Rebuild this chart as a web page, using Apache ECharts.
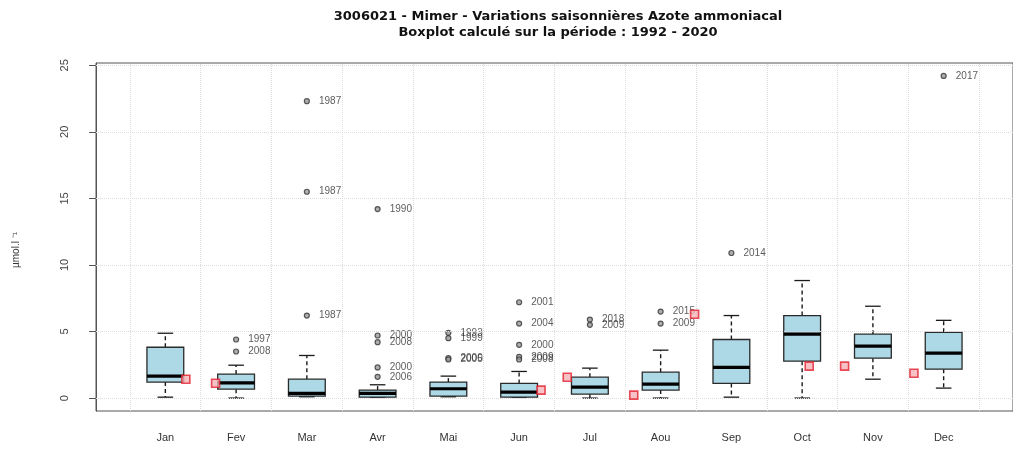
<!DOCTYPE html>
<html>
<head>
<meta charset="utf-8">
<script src="https://cdn.jsdelivr.net/npm/echarts@6/dist/echarts.min.js"></script>
<style>
  html, body { margin: 0; padding: 0; background: #ffffff; }
  #chart { width: 1013px; height: 452px; }
</style>
</head>
<body>
<div id="chart"></div>
<script>
// Monthly ammonium (µmol/l) distribution, station 3006021 Mimer, 1992-2020
const months = ['Jan', 'Fev', 'Mar', 'Avr', 'Mai', 'Jun', 'Jul', 'Aou', 'Sep', 'Oct', 'Nov', 'Dec'];

// Box statistics per month: lower whisker, Q1, median, Q3, upper whisker
const boxLow    = [0.07, 0.00, 0.10, 0.05, 0.10, 0.05, 0.00, 0.00, 0.07, 0.00, 1.42, 0.75];
const boxQ1     = [1.20, 0.67, 0.15, 0.07, 0.15, 0.07, 0.30, 0.60, 1.10, 2.77, 3.00, 2.17];
const boxMedian = [1.65, 1.15, 0.35, 0.35, 0.70, 0.45, 0.82, 1.05, 2.30, 4.80, 3.90, 3.37];
const boxQ3     = [3.82, 1.80, 1.42, 0.60, 1.20, 1.10, 1.57, 1.95, 4.40, 6.20, 4.80, 4.94];
const boxHigh   = [4.87, 2.47, 3.20, 1.00, 1.65, 2.00, 2.25, 3.60, 6.20, 8.83, 6.90, 5.84];

// Outliers: month number (1-12), value, year of the sample
const outlierMonth = [2, 2, 3, 3, 3, 4, 4, 4, 4, 4, 5, 5, 5, 5, 6, 6, 6, 6, 6, 7, 7, 8, 8, 9, 12];
const outlierValue = [4.4, 3.5, 22.3, 15.5, 6.2, 14.2, 4.7, 4.2, 2.3, 1.6, 4.9, 4.5, 3.0, 2.9,
                      7.2, 5.6, 4.0, 3.1, 2.9, 5.9, 5.5, 6.5, 5.6, 10.9, 24.2];
const outlierYear  = ['1997', '2008', '1987', '1987', '1987', '1990', '2000', '2008', '2000', '2006',
                      '1993', '1999', '2000', '2005', '2001', '2004', '2000', '2009', '2008',
                      '2018', '2009', '2015', '2009', '2014', '2017'];

// Latest-year samples: position in the year (month + day fraction) and value
const lastYearPos   = [1.29, 1.71, 6.31, 6.68, 7.62, 8.48, 10.10, 10.60, 11.58];
const lastYearValue = [1.42, 1.12, 0.60, 1.57, 0.22, 6.30, 2.40, 2.40, 1.87];

const yTicks = [0, 5, 10, 15, 20, 25];

const boxData = months.map((m, i) => [i + 1, boxLow[i], boxQ1[i], boxMedian[i], boxQ3[i], boxHigh[i]]);
const outlierData = outlierMonth.map((m, i) => [m, outlierValue[i], outlierYear[i]]);
const lastYearData = lastYearPos.map((p, i) => [p, lastYearValue[i]]);

const gridLines = yTicks.map(v => ({ yAxis: v }))
  .concat(months.map((m, i) => ({ xAxis: i + 0.5 })))
  .concat([{ xAxis: months.length + 0.5 }]);

const chart = echarts.init(document.getElementById('chart'), null, { renderer: 'canvas' });

function renderBox(params, api) {
  const x = api.value(0);
  const lo = api.coord([x, api.value(1)]);
  const q1 = api.coord([x, api.value(2)]);
  const md = api.coord([x, api.value(3)]);
  const q3 = api.coord([x, api.value(4)]);
  const hi = api.coord([x, api.value(5)]);
  const half = api.size([0.26, 0])[0];
  const cap = api.size([0.11, 0])[0];
  const cx = lo[0];
  const whisk = { stroke: '#1a1a1a', lineWidth: 1.4, lineDash: [4, 3] };
  const solid = { stroke: '#1a1a1a', lineWidth: 1.3 };
  return {
    type: 'group',
    children: [
      { type: 'line', shape: { x1: cx, y1: q3[1], x2: cx, y2: hi[1] }, style: whisk },
      { type: 'line', shape: { x1: cx, y1: q1[1], x2: cx, y2: lo[1] }, style: whisk },
      { type: 'line', shape: { x1: cx - cap, y1: hi[1], x2: cx + cap, y2: hi[1] }, style: solid },
      { type: 'line', shape: { x1: cx - cap, y1: lo[1], x2: cx + cap, y2: lo[1] }, style: solid },
      { type: 'rect', shape: { x: cx - half, y: q3[1], width: 2 * half, height: q1[1] - q3[1] },
        style: { fill: '#add8e6', stroke: '#2a2a2a', lineWidth: 1.3 } },
      { type: 'line', shape: { x1: cx - half, y1: md[1], x2: cx + half, y2: md[1] },
        style: { stroke: '#000000', lineWidth: 3.2 } }
    ]
  };
}

chart.setOption({
  animation: false,
  backgroundColor: '#ffffff',
  textStyle: { fontFamily: 'Liberation Sans, Arial, sans-serif' },
  graphic: [
    {
      type: 'text', x: 558, y: 9,
      style: {
        text: '3006021 - Mimer - Variations saisonnières Azote ammoniacal\nBoxplot calculé sur la période : 1992 - 2020',
        align: 'center', verticalAlign: 'top',
        font: 'bold 13px "DejaVu Sans", sans-serif',
        lineHeight: 16, fill: '#111111'
      }
    },
    {
      type: 'text', x: 16, y: 250, rotation: Math.PI / 2,
      style: {
        text: 'µmol.l ⁻¹', align: 'center', verticalAlign: 'middle',
        font: '10px "Liberation Sans", Arial, sans-serif', fill: '#333333'
      }
    }
  ],
  grid: {
    left: 96, right: -13, top: 63, bottom: 41,
    show: true, borderColor: '#555555', borderWidth: 1, backgroundColor: 'transparent'
  },
  xAxis: {
    type: 'value', min: 0.02, max: 12.98,
    axisLine: { show: false },
    axisTick: { show: false },
    splitLine: { show: false },
    axisLabel: {
      customValues: months.map((m, i) => i + 1),
      formatter: v => months[Math.round(v) - 1] || '',
      fontSize: 11, color: '#333333', margin: 21
    }
  },
  yAxis: {
    type: 'value', min: -0.97, max: 25.17,
    axisLine: { show: true, lineStyle: { color: '#555555' } },
    axisTick: { show: true, customValues: yTicks, length: 7, lineStyle: { color: '#555555' } },
    splitLine: { show: false },
    axisLabel: {
      customValues: yTicks, rotate: 90, fontSize: 11, color: '#444444', margin: 26
    }
  },
  series: [
    {
      type: 'line', data: [], z: 1, silent: true,
      markLine: {
        silent: true, symbol: 'none', animation: false,
        label: { show: false },
        lineStyle: { type: 'dotted', color: '#dcdcdc', width: 1 },
        data: gridLines
      }
    },
    {
      type: 'custom', z: 3,
      renderItem: renderBox,
      encode: { x: 0, y: [1, 2, 3, 4, 5] },
      data: boxData
    },
    {
      type: 'scatter', z: 4,
      symbol: 'circle', symbolSize: 5,
      itemStyle: { color: '#9a9a9a', borderColor: '#333333', borderWidth: 1.2 },
      label: {
        show: true, position: 'right', distance: 9,
        formatter: p => p.value[2],
        fontSize: 10, color: '#333333'
      },
      data: outlierData
    },
    {
      type: 'scatter', z: 5,
      symbol: 'rect', symbolSize: 8,
      itemStyle: { color: '#f5b3b8', borderColor: '#e3202e', borderWidth: 1.6 },
      data: lastYearData
    }
  ]
});
</script>
</body>
</html>
